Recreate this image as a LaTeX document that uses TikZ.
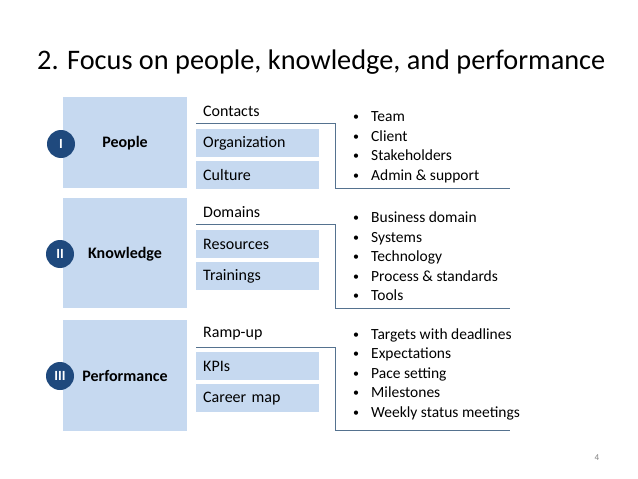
\documentclass[tikz,border=0pt]{standalone}
\usepackage{fontspec}
\setmainfont{Carlito}
\definecolor{lightbox}{HTML}{C6D9F0}
\definecolor{darkcirc}{HTML}{1F497D}
\definecolor{linecol}{HTML}{55728F}
\begin{document}
\begin{tikzpicture}[x=1pt,y=-1pt,
  bigbox/.style={fill=lightbox,draw=none,minimum width=124pt,inner sep=0pt,anchor=north west},
  smallbox/.style={fill=lightbox,draw=none,minimum width=123pt,minimum height=28pt,inner ysep=0pt,inner xsep=7pt,anchor=north west,text width=109pt,align=left,font=\fontsize{16}{18}\selectfont},
  plainlbl/.style={anchor=west,inner sep=0pt,font=\fontsize{16}{18}\selectfont},
  biglbl/.style={font=\bfseries\fontsize{16}{18}\selectfont,inner sep=0pt},
  numcirc/.style={circle,fill=darkcirc,minimum size=28pt,inner sep=0pt,text=white,font=\bfseries\fontsize{14}{16}\selectfont},
  bracket/.style={draw=linecol,line width=0.8pt},
  bul/.style={anchor=base west,inner sep=0pt,font=\fontsize{15.5}{18}\selectfont},
]
\useasboundingbox (0,0) rectangle (638,479);
\node[anchor=west,inner sep=0pt,font=\fontsize{28.3}{32}\selectfont] (title) at (37,62) {2. Focus on people, knowledge, and performance};
\newcommand{\bi}[1]{\makebox[18pt][l]{\raisebox{0.8pt}{\fontsize{12}{12}\selectfont\textbullet}}#1}

% Block I
\node[bigbox,minimum height=91pt] (b1) at (63,97) {};
\node[biglbl] (l1) at (125,143) {People};
\node[numcirc] (c1) at (61,144) {I};
\node[plainlbl] (t1) at (203,111) {Contacts};
\node[smallbox] (s11) at (196,129) {Organization};
\node[smallbox] (s12) at (196,161) {Culture};
\coordinate (a1) at (196,123);
\coordinate (a2) at (335,123);
\coordinate (a3) at (335,188);
\coordinate (a4) at (510,188);
\draw[bracket] (a1) -- (a2) -- (a3) -- (a4);
\node[bul] (u11) at (353,121.5) {\bi{Team}};
\node[bul] (u12) at (353,141) {\bi{Client}};
\node[bul] (u13) at (353,160.5) {\bi{Stakeholders}};
\node[bul] (u14) at (353,180) {\bi{Admin \& support}};

% Block II
\node[bigbox,minimum height=110pt] (b2) at (63,198) {};
\node[biglbl] (l2) at (125,254) {Knowledge};
\node[numcirc] (c2) at (60,254) {II};
\node[plainlbl] (t2) at (203,212) {Domains};
\node[smallbox] (s21) at (196,230) {Resources};
\node[smallbox] (s22) at (196,262) {Trainings};
\coordinate (d1) at (196,224);
\coordinate (d2) at (335,224);
\coordinate (d3) at (335,308);
\coordinate (d4) at (510,308);
\draw[bracket] (d1) -- (d2) -- (d3) -- (d4);
\node[bul] (u21) at (353,222.5) {\bi{Business domain}};
\node[bul] (u22) at (353,242) {\bi{Systems}};
\node[bul] (u23) at (353,261.5) {\bi{Technology}};
\node[bul] (u24) at (353,281) {\bi{Process \& standards}};
\node[bul] (u25) at (353,300.5) {\bi{Tools}};

% Block III
\node[bigbox,minimum height=111pt] (b3) at (63,320) {};
\node[biglbl] (l3) at (125,376) {Performance};
\node[numcirc] (c3) at (60,376) {III};
\node[plainlbl] (t3) at (203,334) {Ramp-up};
\node[smallbox] (s31) at (196,352) {KPIs};
\node[smallbox] (s32) at (196,384) {Career map};
\coordinate (p1) at (196,347);
\coordinate (p2) at (335,347);
\coordinate (p3) at (335,430);
\coordinate (p4) at (510,430);
\draw[bracket] (p1) -- (p2) -- (p3) -- (p4);
\node[bul] (u31) at (353,339) {\bi{Targets with deadlines}};
\node[bul] (u32) at (353,358.5) {\bi{Expectations}};
\node[bul] (u33) at (353,378) {\bi{Pace setting}};
\node[bul] (u34) at (353,397.5) {\bi{Milestones}};
\node[bul] (u35) at (353,417) {\bi{Weekly status meetings}};

\node[text=gray,font=\fontsize{9}{10}\selectfont,inner sep=0pt] (pg) at (597,458) {4};
\end{tikzpicture}
\end{document}
